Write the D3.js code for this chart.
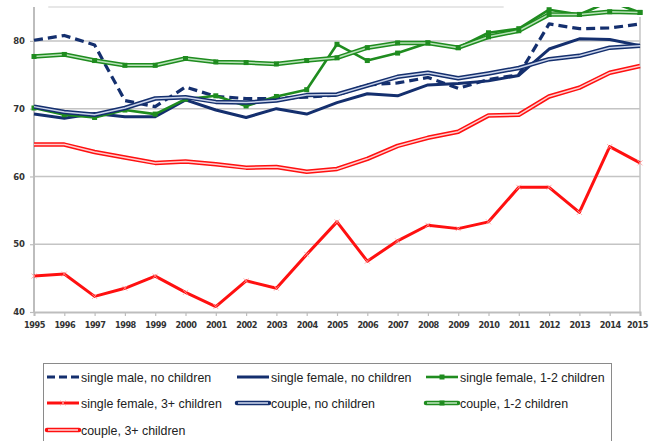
<!DOCTYPE html>
<html lang="en">
<head>
<meta charset="UTF-8">
<title>Employment rates by household type</title>
<script src="https://cdnjs.cloudflare.com/ajax/libs/d3/7.8.5/d3.min.js"></script>
<style>
    body { margin: 0; background: #fff; font-family: "Liberation Sans", Arial, sans-serif; }
    svg { display: block; }
</style>
</head>
<body>
<div id="chart"></div>
<script>
    // years on the x axis
    const years = d3.range(1995, 2016);

    // y axis ticks
    const yTicks = [40, 50, 60, 70, 80];

    // series values, one per year 1995..2015
    const singleMaleNone = [80.1, 80.8, 79.4, 71.2, 70.3, 73.2, 71.8, 71.5, 71.5, 71.7, 72.0, 73.5, 73.8, 74.6, 73.0, 74.3, 75.0, 82.5, 81.8, 81.9, 82.5];
    const singleFemaleNone = [69.2, 68.6, 69.3, 68.8, 68.8, 71.3, 69.8, 68.7, 70.0, 69.2, 70.9, 72.2, 71.9, 73.5, 73.7, 74.1, 74.9, 78.8, 80.3, 80.2, 79.3];
    const singleFemale12 = [70.1, 69.1, 68.7, 69.8, 69.2, 71.4, 71.9, 70.4, 71.8, 72.8, 79.5, 77.1, 78.2, 79.7, 79.0, 81.2, 81.8, 84.6, 83.9, 85.8, 84.2];
    const singleFemale3 = [45.3, 45.6, 42.3, 43.5, 45.3, 42.9, 40.8, 44.6, 43.5, 48.5, 53.3, 47.5, 50.5, 52.8, 52.3, 53.3, 58.4, 58.4, 54.7, 64.4, 62.0];
    const coupleNone = [70.3, 69.5, 69.1, 70.1, 71.5, 71.7, 71.0, 70.9, 71.2, 72.0, 72.1, 73.4, 74.7, 75.3, 74.5, 75.2, 76.0, 77.3, 77.8, 79.0, 79.3];
    const couple12 = [77.7, 78.0, 77.1, 76.4, 76.4, 77.4, 76.9, 76.8, 76.6, 77.1, 77.5, 79.0, 79.7, 79.7, 79.0, 80.6, 81.5, 83.9, 83.9, 84.3, 84.2];
    const couple3 = [64.7, 64.7, 63.6, 62.8, 62.0, 62.2, 61.8, 61.3, 61.4, 60.7, 61.1, 62.6, 64.5, 65.7, 66.6, 69.0, 69.1, 71.8, 73.1, 75.3, 76.3];

    const seriesNames = [
        'single male, no children', 'single female, no children', 'single female, 1-2 children',
        'single female, 3+ children', 'couple, no children', 'couple, 1-2 children',
        'couple, 3+ children'
    ];
    const seriesValues = [singleMaleNone, singleFemaleNone, singleFemale12, singleFemale3, coupleNone, couple12, couple3];

    const navy = '#142f6e';
    const green = '#1f8c1f';
    const red = '#ff1010';

    // style per series: colour, dash, double line inner colour, marker
    const styles = [
        { color: navy, width: 3.2, dash: '9,5' },
        { color: navy, width: 3 },
        { color: green, width: 2.6, marker: 'square' },
        { color: red, width: 3, marker: 'cross' },
        { color: navy, width: 4.5, inner: '#c9d3ea' },
        { color: green, width: 4.5, inner: '#b8e2b8', marker: 'square' },
        { color: red, width: 4.5, inner: '#ffd0d0' }
    ];

    const width = 649, height = 441;
    const plot = { left: 34, right: 640, top: 7, bottom: 312 };

    const svg = d3.select('#chart').append('svg')
        .attr('width', width)
        .attr('height', height);

    const x = d3.scaleLinear().domain([1995, 2015]).range([plot.left, plot.right]);
    const y = d3.scaleLinear().domain([40, 85]).range([plot.bottom, plot.top]);

    // gridlines
    svg.append('g')
        .selectAll('line')
        .data(yTicks.slice(1))
        .join('line')
        .attr('x1', plot.left).attr('x2', plot.right)
        .attr('y1', d => y(d)).attr('y2', d => y(d))
        .attr('stroke', '#c4c4c4')
        .attr('stroke-width', 1.5);

    // partial top frame line
    svg.append('line')
        .attr('x1', x(1995.47)).attr('x2', x(2010.5))
        .attr('y1', plot.top).attr('y2', plot.top)
        .attr('stroke', '#cfcfcf').attr('stroke-width', 1.2);

    // right border
    svg.append('line')
        .attr('x1', plot.right).attr('x2', plot.right)
        .attr('y1', plot.top + 10).attr('y2', plot.bottom)
        .attr('stroke', '#c4c4c4').attr('stroke-width', 1.5);

    // x axis
    const xAxis = svg.append('g')
        .attr('transform', `translate(0,${plot.bottom})`)
        .call(d3.axisBottom(x).tickValues(years).tickFormat(d3.format('d')).tickSize(4).tickPadding(6));
    xAxis.select('.domain').attr('stroke', '#bdbdbd').attr('stroke-width', 2);
    xAxis.selectAll('.tick line').attr('stroke', '#bdbdbd').attr('stroke-width', 1.2);
    xAxis.selectAll('text')
        .attr('font-family', '"DejaVu Sans", sans-serif')
        .attr('font-size', 8.2)
        .attr('font-weight', 'bold')
        .attr('fill', '#333')
        .attr('letter-spacing', -0.5)
        .attr('dx', d => d === 2015 ? -3 : 0);

    // y axis
    const yAxis = svg.append('g')
        .attr('transform', `translate(${plot.left},0)`)
        .call(d3.axisLeft(y).tickValues(yTicks).tickSize(4).tickPadding(5));
    yAxis.select('.domain').attr('stroke', '#bdbdbd').attr('stroke-width', 2).attr('d', `M0,${plot.bottom}V${plot.top}`);
    yAxis.selectAll('.tick line').attr('stroke', '#bdbdbd').attr('stroke-width', 1.2);
    yAxis.selectAll('text')
        .attr('font-family', '"DejaVu Sans", sans-serif')
        .attr('font-size', 8.5)
        .attr('font-weight', 'bold')
        .attr('fill', '#333');

    // clip lines to the plot area
    svg.append('clipPath').attr('id', 'clip')
        .append('rect')
        .attr('x', plot.left - 5).attr('y', plot.top)
        .attr('width', plot.right - plot.left + 10).attr('height', plot.bottom - plot.top + 5);

    const line = d3.line()
        .x((d, i) => x(years[i]))
        .y(d => y(d));

    const lines = svg.append('g').attr('clip-path', 'url(#clip)');

    const drawMarker = (g, kind, cx, cy, color) => {
        if (kind === 'square') {
            g.append('rect')
                .attr('x', cx - 2.5).attr('y', cy - 2.5)
                .attr('width', 5).attr('height', 5)
                .attr('fill', color);
        } else if (kind === 'cross') {
            g.append('path')
                .attr('d', `M${cx - 2.5},${cy - 2.5}L${cx + 2.5},${cy + 2.5}M${cx - 2.5},${cy + 2.5}L${cx + 2.5},${cy - 2.5}`)
                .attr('stroke', '#ff9a9a').attr('stroke-width', 0.8);
        }
    };

    seriesValues.forEach((vals, k) => {
        const s = styles[k];
        const g = lines.append('g');
        g.append('path')
            .datum(vals)
            .attr('d', line)
            .attr('fill', 'none')
            .attr('stroke', s.color)
            .attr('stroke-width', s.width)
            .attr('stroke-dasharray', s.dash || null)
            .attr('stroke-linejoin', 'round');
        if (s.inner) {
            g.append('path')
                .datum(vals)
                .attr('d', line)
                .attr('fill', 'none')
                .attr('stroke', s.inner)
                .attr('stroke-width', 1.5)
                .attr('stroke-linejoin', 'round');
        }
        if (s.marker) {
            vals.forEach((v, i) => drawMarker(g, s.marker, x(years[i]), y(v), s.color));
        }
    });

    // legend
    const legend = svg.append('g');
    legend.append('rect')
        .attr('x', 43.5).attr('y', 363.5)
        .attr('width', 568).attr('height', 100)
        .attr('fill', '#fff')
        .attr('stroke', '#8a8a8a').attr('stroke-width', 1);

    const colX = [47, 237, 426];
    const rowY = [377, 403, 430];

    seriesNames.forEach((name, k) => {
        const s = styles[k];
        const lx = colX[k % 3], ly = rowY[Math.floor(k / 3)];
        const g = legend.append('g');
        g.append('line')
            .attr('x1', lx).attr('x2', lx + 32)
            .attr('y1', ly).attr('y2', ly)
            .attr('stroke', s.color)
            .attr('stroke-width', s.width)
            .attr('stroke-dasharray', s.dash ? '8,4' : null)
            .attr('stroke-linecap', s.inner ? 'round' : 'butt');
        if (s.inner) {
            g.append('line')
                .attr('x1', lx + 1).attr('x2', lx + 31)
                .attr('y1', ly).attr('y2', ly)
                .attr('stroke', s.inner)
                .attr('stroke-width', 1.6);
        }
        if (s.marker) drawMarker(g, s.marker, lx + 16, ly, s.color);
        g.append('text')
            .attr('x', lx + 34).attr('y', ly + 4.5)
            .attr('font-family', '"Liberation Sans", Arial, sans-serif')
            .attr('font-size', 12.4)
            .attr('fill', '#222')
            .text(name);
    });
</script>
</body>
</html>
